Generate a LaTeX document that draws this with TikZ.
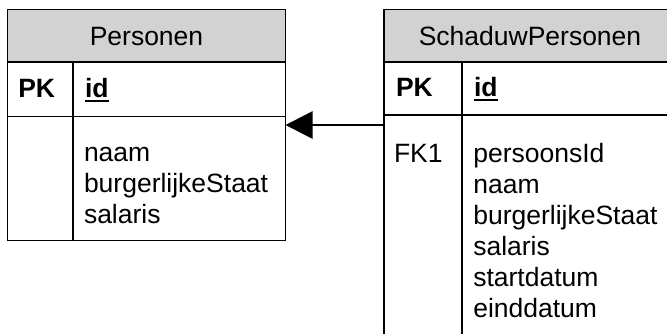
\documentclass[tikz,border=0pt]{standalone}
\usepackage{fontspec}
\setmainfont{Liberation Sans}
\usetikzlibrary{arrows.meta}
\definecolor{hdrgray}{RGB}{210,210,210}
\tikzset{
  tbl/.style={draw=black, line width=1.9pt, inner sep=0pt, outer sep=0pt},
  hdr/.style={fill=hdrgray},
  rule/.style={draw=black, line width=1.9pt},
  txt/.style={inner sep=0pt, outer sep=0pt, anchor=base west, font=\fontsize{26.5pt}{31pt}\selectfont},
  title/.style={txt, anchor=base},
  keytxt/.style={txt, font=\fontsize{26.5pt}{31pt}\selectfont\bfseries},
  fk/.style={-{Triangle[length=27pt,width=27pt]}, line width=2.5pt}
}
\begin{document}
\begin{tikzpicture}[x=1pt,y=-1pt]
\useasboundingbox (0,0) rectangle (667,333);
\fill[white] (0,0) rectangle (667,333);
\begin{scope}
\clip (0,0) rectangle (667,333);
% header fills
\fill[hdr] (7.5,9.5) rectangle (285.5,62.3);
\fill[hdr] (384.3,9.5) rectangle (676,62.3);
% table outlines
\node[tbl, minimum width=278pt, minimum height=231pt] (pers) at (146.5,125) {};
\node[tbl, minimum width=291.7pt, minimum height=335.5pt] (schad) at (530.15,177.25) {};
% inner rules, left table
\draw[rule] (pers.west |- 0,62.3) -- (pers.east |- 0,62.3);
\draw[rule] (pers.west |- 0,116.5) -- (pers.east |- 0,116.5);
\draw[rule] (73.3,62.3) -- (pers.south -| 73.3,0);
% inner rules, right table
\draw[rule] (schad.west |- 0,62.3) -- (schad.east |- 0,62.3);
\draw[rule] (schad.west |- 0,115) -- (schad.east |- 0,115);
\draw[rule] (461.7,62.3) -- (schad.south -| 461.7,0);
% texts, left table
\node[title] (pt) at (146.5,45) {Personen};
\node[keytxt] (ppk) at (18.3,97) {PK};
\node[keytxt] (pid) at (85,97) {id};
\draw[line width=2pt] ([yshift=-3.5pt]pid.base west) -- ([yshift=-3.5pt]pid.base east);
\node[txt] (pa1) at (84,161) {naam};
\node[txt] (pa2) at (84,192) {burgerlijkeStaat};
\node[txt] (pa3) at (84,223) {salaris};
% texts, right table
\node[title] (st) at (530,45) {SchaduwPersonen};
\node[keytxt] (spk) at (396,96.7) {PK};
\node[keytxt] (sid) at (474,96.7) {id};
\draw[line width=2pt] ([yshift=-3.5pt]sid.base west) -- ([yshift=-3.5pt]sid.base east);
\node[txt] (sfk) at (394,162) {FK1};
\node[txt] (sa1) at (473.3,162) {persoonsId};
\node[txt] (sa2) at (473.3,193) {naam};
\node[txt] (sa3) at (473.3,224) {burgerlijkeStaat};
\node[txt] (sa4) at (473.3,255) {salaris};
\node[txt] (sa5) at (473.3,286) {startdatum};
\node[txt] (sa6) at (473.3,317) {einddatum};
% foreign key connector
\coordinate (ay) at (0,125);
\draw[fk] (schad.west |- ay) -- (pers.east |- ay);
\end{scope}
\end{tikzpicture}
\end{document}
